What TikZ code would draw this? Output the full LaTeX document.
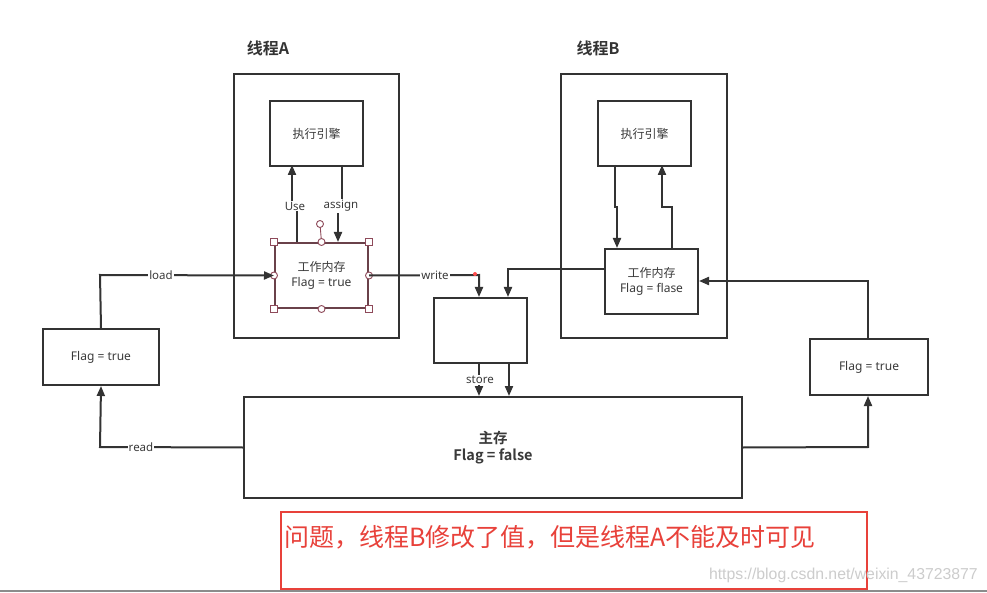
\documentclass[tikz,border=0pt]{standalone}
\usepackage{fontspec}
\setmainfont{Noto Sans CJK SC}[BoldFont={Noto Sans CJK SC Bold}]
\newfontfamily\wmfont{Liberation Sans}
\newfontfamily\lat{Noto Sans}
\usetikzlibrary{arrows.meta,calc}
\definecolor{ln}{HTML}{333333}
\definecolor{txt}{HTML}{3A3A3A}
\definecolor{hdl}{HTML}{8E4A5A}
\definecolor{redc}{HTML}{E8413A}
\tikzset{
  box/.style={draw=ln, line width=2pt, fill=white, inner sep=0pt, anchor=north west,
    text=txt, align=center, font=\fontsize{12}{15.5}\selectfont},
  conn/.style={draw=ln, line width=2pt},
  arr/.style={conn, -{Triangle[length=10pt,width=8pt]}},
  lbl/.style={fill=white, inner sep=1pt, text=txt, font=\lat\fontsize{11.5}{13}\selectfont},
  handlesq/.style={draw=hdl, fill=white, line width=0.9pt, minimum size=6.5pt, inner sep=0pt},
  handlec/.style={draw=hdl, fill=white, line width=0.9pt, circle, minimum size=7pt, inner sep=0pt},
  ttl/.style={text=ln, font=\bfseries\fontsize{16}{18}\selectfont},
}
\begin{document}
\begin{tikzpicture}[x=1pt,y=-1pt]
\useasboundingbox[fill=white] (0,0) rectangle (987,593);

% thread containers
\node[box, minimum width=165pt, minimum height=264pt] (thA) at (233,73) {};
\node[box, minimum width=166pt, minimum height=264pt] (thB) at (560,73) {};
\node[ttl] (tA) at (268,48) {线程A};
\node[ttl] (tB) at (598,48) {线程B};

% engines
\node[box, minimum width=93pt, minimum height=65pt] (engA) at (269,100) {执行引擎};
\node[box, minimum width=93pt, minimum height=65pt] (engB) at (597,100) {执行引擎};

% working memories
\node[box, draw=hdl!60!ln, minimum width=93pt, minimum height=65pt] (wmA) at (274,242) {工作内存\\{\lat Flag = true}};
\node[box, minimum width=93pt, minimum height=65pt] (wmB) at (604,248) {工作内存\\{\lat Flag = flase}};

% flag boxes
\node[box, minimum width=116pt, minimum height=56pt, font=\lat\fontsize{12}{15}\selectfont] (flL) at (42,328) {Flag = true};
\node[box, minimum width=118pt, minimum height=56pt, font=\lat\fontsize{12}{15}\selectfont] (flR) at (809,338) {Flag = true};

% small buffer box
\node[box, minimum width=93pt, minimum height=65pt] (buf) at (433,297) {};

% main memory
\node[box, minimum width=498pt, minimum height=101pt, font=\bfseries\fontsize{14.5}{17}\selectfont] (mm) at (243,396) {主存\\Flag = false};

% thread A inner connectors
\draw[arr] ($(wmA.north west)+(23,0)$) -- (297,206) -- (292,206) -- (292,165);
\node[lbl] (luse) at (295,206) {Use};
\draw[arr] (342,165) -- (342,206) -- (338,206) -- ($(wmA.north west)+(64,0)$);
\node[lbl] (lassign) at (341,206) {assign};

% selection handles on wmA
\draw[hdl, line width=0.9pt] (wmA.north) -- (320,224);
\node[handlec] (hrot) at (320,224) {};
\foreach \a in {north west,north east,south west,south east}{\node[handlesq] at (wmA.\a) {};}
\foreach \a in {north,south,west,east}{\node[handlec] at (wmA.\a) {};}

% thread B inner connectors
\draw[arr] (615,165) -- (615,207) -- (617,207) -- ($(wmB.north west)+(13,0)$);
\draw[arr] ($(wmB.north west)+(68,0)$) -- (672,207) -- (662,207) -- (662,165);

% load / read
\draw[arr] (flL.north) -- (100,275) -- (wmA.west);
\node[lbl] (lload) at (161,275) {load};
\draw[arr] (mm.west) -- (100,447) -- (flL.south);
\node[lbl] (lread) at (141,447) {read};

% write
\draw[arr] (wmA.east) -- (479,275) -- ($(buf.north west)+(46,0)$);
\node[lbl] (lwrite) at (435,275) {write};
\fill[red!70!white] (475,274) circle (2pt);
\draw[arr] ($(wmB.north west)+(0,21)$) -- (508,269) -- ($(buf.north west)+(75,0)$);

% store
\draw[arr] ($(buf.south west)+(46,0)$) -- (479,396);
\node[lbl] (lstore) at (480,380) {store};
\draw[arr] ($(buf.south west)+(76,0)$) -- (509,396);

% right side
\draw[arr] (mm.east) -- (868,447) -- ($(flR.south west)+(59,0)$);
\draw[arr] ($(flR.north west)+(59,0)$) -- (868,281) -- ($(wmB.north east)+(0,33)$);

% red note
\node[draw=redc, line width=1.5pt, minimum width=586pt, minimum height=77pt, anchor=north west, inner sep=0pt] (note) at (280,511) {};
\node[anchor=west, text=redc, inner sep=0pt, font=\fontsize{25}{27}\selectfont] (notetxt) at (284,537) {问题，线程B修改了值，但是线程A不能及时可见};

% watermark and bottom line
\node[anchor=east, text=black!20, inner sep=0pt, font=\wmfont\fontsize{15.8}{17}\selectfont] (wm) at (978,575) {https://blog.csdn.net/weixin\_43723877};
\draw[black!45, line width=1.5pt] (0,591) -- (987,591);
\end{tikzpicture}
\end{document}
